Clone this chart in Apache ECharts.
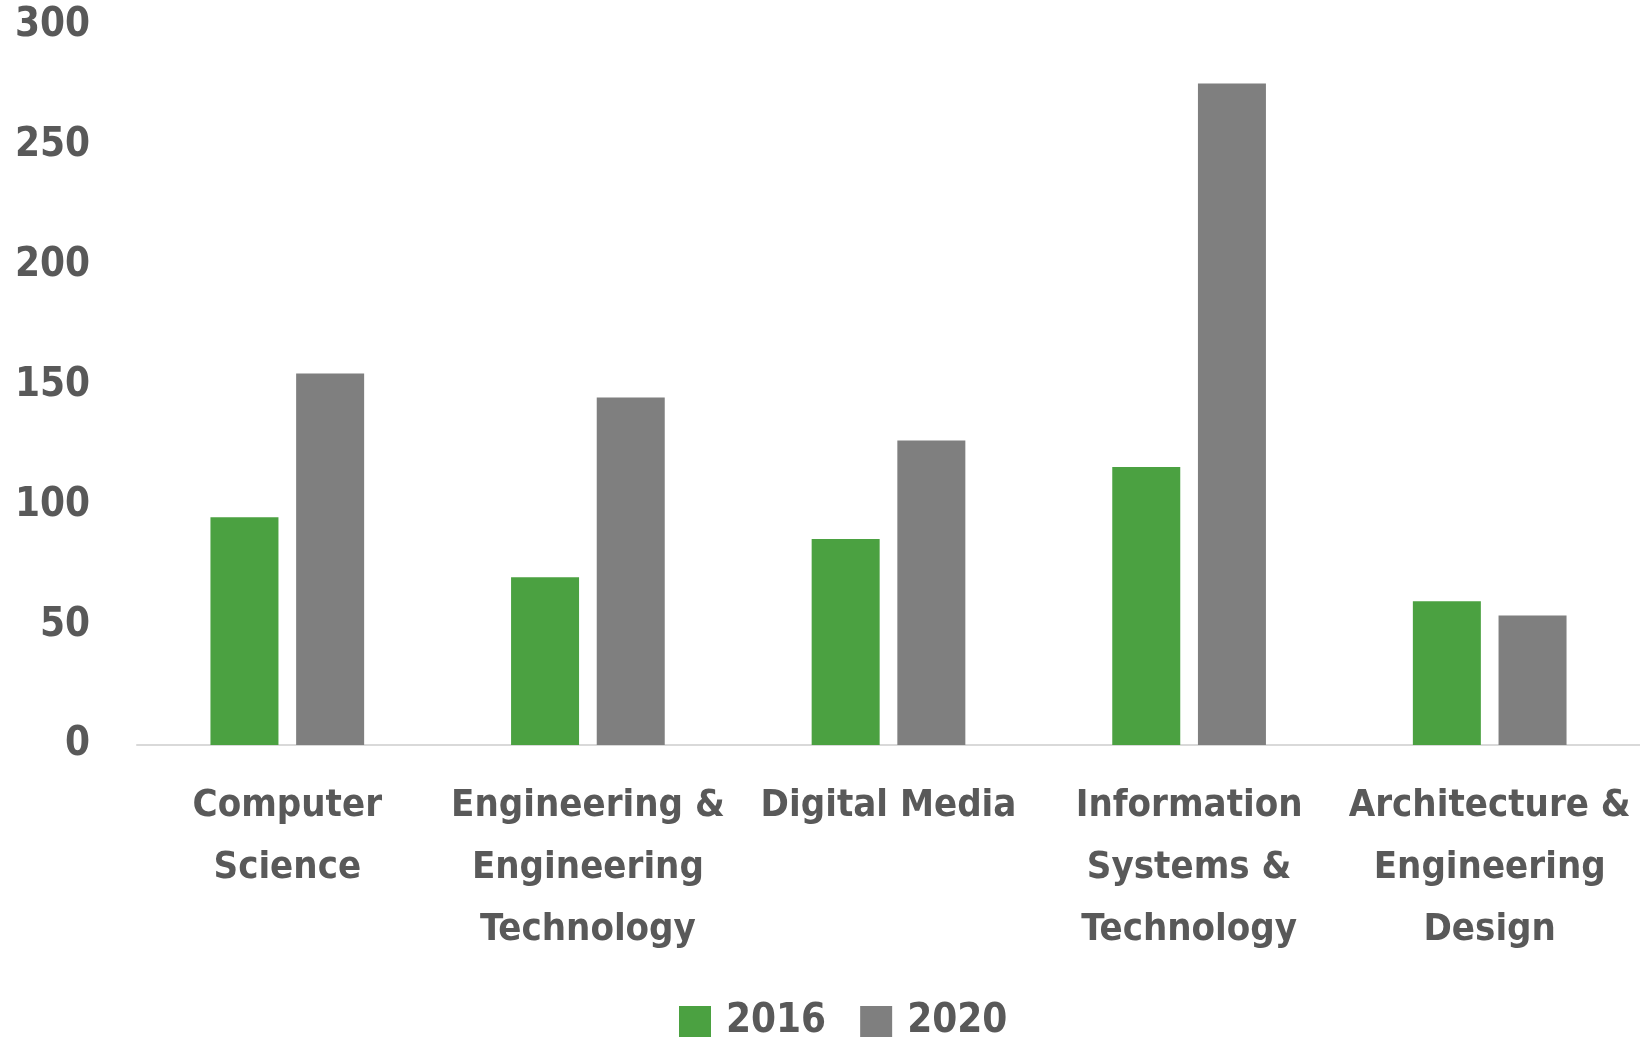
<!DOCTYPE html>
<html>
<head>
<meta charset="utf-8">
<script src="https://cdn.jsdelivr.net/npm/echarts@6/dist/echarts.min.js"></script>
<style>
  html, body { margin: 0; padding: 0; background: #fff; }
  #container { width: 1640px; height: 1037px; }
</style>
</head>
<body>
<div id="container"></div>
<script>
var categories = [
    'Computer\nScience',
    'Engineering &\nEngineering\nTechnology',
    'Digital Media',
    'Information\nSystems &\nTechnology',
    'Architecture &\nEngineering\nDesign'
];
var values2016 = [95, 70, 86, 116, 60];
var values2020 = [155, 145, 127, 276, 54];
var yTicks = [0, 50, 100, 150, 200, 250, 300];

var fontFamily = '"DejaVu Sans Condensed", "DejaVu Sans", sans-serif';
var textColor = '#595959';

var myChart = echarts.init(document.getElementById('container'));
var option = {
    animation: false,
    backgroundColor: '#ffffff',
    legend: {
        data: ['2016', '2020'],
        left: 674,
        top: 997,
        itemWidth: 32,
        itemHeight: 32,
        itemGap: 34,
        icon: 'rect',
        textStyle: {
            color: textColor,
            fontFamily: fontFamily,
            fontWeight: 'bold',
            fontSize: 40,
            padding: [2, 0, 0, 10]
        }
    },
    grid: {
        left: 137,
        right: 0,
        top: 26,
        bottom: 292,
        containLabel: false
    },
    xAxis: {
        type: 'category',
        data: categories,
        axisLine: { lineStyle: { color: '#D9D9D9', width: 2 } },
        axisTick: { show: false },
        axisLabel: {
            interval: 0,
            margin: 30,
            color: textColor,
            fontFamily: fontFamily,
            fontWeight: 'bold',
            fontSize: 38,
            lineHeight: 62
        }
    },
    yAxis: {
        type: 'value',
        min: yTicks[0],
        max: yTicks[yTicks.length - 1],
        interval: 50,
        splitLine: { show: false },
        axisLine: { show: false },
        axisTick: { show: false },
        axisLabel: {
            margin: 47,
            padding: [6, 0, 0, 0],
            color: textColor,
            fontFamily: fontFamily,
            fontWeight: 'bold',
            fontSize: 40
        }
    },
    series: [
        {
            name: '2016',
            type: 'bar',
            data: values2016,
            barWidth: 68,
            barGap: '26%',
            itemStyle: { color: '#4BA141' }
        },
        {
            name: '2020',
            type: 'bar',
            data: values2020,
            barWidth: 68,
            itemStyle: { color: '#7F7F7F' }
        }
    ]
};
myChart.setOption(option, true);
window.onresize = function () {
    myChart.resize();
};
</script>
</body>
</html>
